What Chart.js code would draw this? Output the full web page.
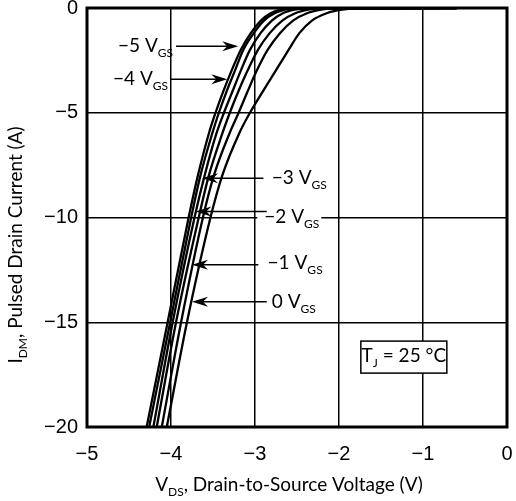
<!DOCTYPE html>
<html>
<head>
<meta charset="utf-8">
<script src="https://cdn.jsdelivr.net/npm/chart.js@4/dist/chart.umd.min.js"></script>
<style>
  html, body { margin: 0; padding: 0; background: #fff; }
  #wrap { width: 516px; height: 501px; }
</style>
</head>
<body>
<div id="wrap"><canvas id="chart"></canvas></div>
<script>
// drain current levels (A), shared by every curve, bottom to top
const currentLevels = [-20, -15, -10, -8, -6, -5, -4, -3, -2, -1.2, -0.6, -0.25, -0.08, -0.03, -0.01];

// V_DS (V) at the current levels above
const vgsLabels = ['−5', '−4', '−3', '−2', '−1', '0'];
const vdsAtVgsM5 = [-4.29, -4.04, -3.79, -3.68, -3.55, -3.47, -3.38, -3.28, -3.17, -3.05, -2.93, -2.815, -2.696, -2.606, -0.6];
const vdsAtVgsM4 = [-4.26, -4.01, -3.76, -3.65, -3.51, -3.43, -3.34, -3.24, -3.14, -3.015, -2.894, -2.768, -2.644, -2.552, -0.6];
const vdsAtVgsM3 = [-4.21, -3.98, -3.72, -3.60, -3.46, -3.37, -3.27, -3.17, -3.06, -2.934, -2.80, -2.668, -2.527, -2.428, -0.6];
const vdsAtVgsM2 = [-4.17, -3.94, -3.67, -3.55, -3.39, -3.30, -3.20, -3.09, -2.965, -2.825, -2.675, -2.521, -2.365, -2.257, -0.6];
const vdsAtVgsM1 = [-4.11, -3.88, -3.62, -3.49, -3.305, -3.195, -3.09, -2.98, -2.85, -2.703, -2.547, -2.381, -2.21, -2.094, -0.6];
const vdsAtVgs0 = [-4.05, -3.81, -3.53, -3.39, -3.19, -3.06, -2.91, -2.755, -2.60, -2.472, -2.322, -2.147, -1.96, -1.83, -0.6];

const xTicks = [-5, -4, -3, -2, -1, 0];
const yTicks = [0, -5, -10, -15, -20];

const allCurves = [vdsAtVgsM5, vdsAtVgsM4, vdsAtVgsM3, vdsAtVgsM2, vdsAtVgsM1, vdsAtVgs0];

// callouts, placed in data units (V, A)
const callouts = [
  { text: vgsLabels[0], textV: -4.63, tailV: -3.94, tipV: -3.20, arrowI: -1.82, textI: -1.82 },
  { text: vgsLabels[1], textV: -4.69, tailV: -4.00, tipV: -3.33, arrowI: -3.40, textI: -3.40 },
  { text: vgsLabels[2], textV: -2.80, tailV: -2.90, tipV: -3.63, arrowI: -8.13, textI: -8.13 },
  { text: vgsLabels[3], textV: -2.89, tailV: -2.86, tipV: -3.71, arrowI: -9.71, textI: -9.95, mask: true },
  { text: vgsLabels[4], textV: -2.85, tailV: -2.96, tipV: -3.75, arrowI: -12.25, textI: -12.15 },
  { text: vgsLabels[5], textV: -2.80, tailV: -2.86, tipV: -3.75, arrowI: -14.02, textI: -14.02 }
];

const textFont = 'Lato, "Open Sans", sans-serif';
const minus = (v) => String(v).replace('-', '−');

const richWidth = (ctx, parts, size) => {
  let w = 0;
  parts.forEach((p) => {
    ctx.font = `${p.sub ? Math.round(size * 0.62) : size}px ${textFont}`;
    w += ctx.measureText(p.t).width;
  });
  return w;
};

// text with subscript parts
const drawRich = (ctx, parts, x, y, size, align) => {
  const total = richWidth(ctx, parts, size);
  let cx = align === 'center' ? x - total / 2 : x;
  ctx.textBaseline = 'middle';
  ctx.textAlign = 'left';
  parts.forEach((p) => {
    ctx.font = `${p.sub ? Math.round(size * 0.62) : size}px ${textFont}`;
    ctx.fillText(p.t, cx, p.sub ? y + size * 0.38 : y);
    cx += ctx.measureText(p.t).width;
  });
  return total;
};

const drawArrow = (ctx, x0, x1, y) => {
  const dir = x1 > x0 ? 1 : -1;
  ctx.beginPath();
  ctx.moveTo(x0, y);
  ctx.lineTo(x1 - dir * 8, y);
  ctx.lineWidth = 1.5;
  ctx.strokeStyle = '#000';
  ctx.stroke();
  ctx.beginPath();
  ctx.moveTo(x1, y);
  ctx.lineTo(x1 - dir * 16, y - 5);
  ctx.lineTo(x1 - dir * 11, y);
  ctx.lineTo(x1 - dir * 16, y + 5);
  ctx.closePath();
  ctx.fillStyle = '#000';
  ctx.fill();
};

const overlayPlugin = {
  id: 'overlay',
  beforeDatasetsDraw(chart) {
    const { ctx, scales: { x, y } } = chart;
    // white patch that breaks the -10 grid line behind the -2 label
    callouts.filter((c) => c.mask).forEach((c) => {
      ctx.save();
      ctx.fillStyle = '#fff';
      const px = x.getPixelForValue(c.textV);
      ctx.fillRect(px - 7, y.getPixelForValue(c.textI) - 4, 64, 14);
      ctx.restore();
    });
  },
  afterDatasetsDraw(chart) {
    const { ctx, chartArea: a, scales: { x, y } } = chart;
    ctx.save();
    ctx.lineWidth = 3;
    ctx.strokeStyle = '#000';
    ctx.strokeRect(a.left, a.top, a.right - a.left, a.bottom - a.top);

    ctx.fillStyle = '#000';
    callouts.forEach((c) => {
      const ay = y.getPixelForValue(c.arrowI);
      drawArrow(ctx, x.getPixelForValue(c.tailV), x.getPixelForValue(c.tipV), ay);
      ctx.fillStyle = '#000';
      drawRich(ctx, [{ t: `${c.text} V` }, { t: 'GS', sub: true }],
        x.getPixelForValue(c.textV), y.getPixelForValue(c.textI), 19, 'left');
    });

    // junction temperature box
    const bx = x.getPixelForValue(-1.74);
    const by = y.getPixelForValue(-15.9);
    ctx.fillStyle = '#fff';
    ctx.fillRect(bx, by, 86, 32);
    ctx.lineWidth = 1.5;
    ctx.strokeRect(bx, by, 86, 32);
    ctx.fillStyle = '#000';
    drawRich(ctx, [{ t: 'T' }, { t: 'J', sub: true }, { t: ' = 25 °C' }], bx + 43, by + 15, 19, 'center');

    // axis titles
    drawRich(ctx, [{ t: 'V' }, { t: 'DS', sub: true }, { t: ', Drain-to-Source Voltage (V)' }],
      (a.left + a.right) / 2 - 8, 485, 19, 'center');
    ctx.translate(16, 245);
    ctx.rotate(-Math.PI / 2);
    drawRich(ctx, [{ t: 'I' }, { t: 'DM', sub: true }, { t: ', Pulsed Drain Current (A)' }], 0, 0, 19, 'center');
    ctx.restore();
  }
};

const datasets = allCurves.map((vds, i) => ({
  label: `${vgsLabels[i]} VGS`,
  data: vds.map((v, k) => ({ x: v, y: currentLevels[k] })),
  borderColor: '#000',
  borderWidth: 2.3,
  pointRadius: 0,
  fill: false,
  cubicInterpolationMode: 'monotone'
}));

new Chart(document.getElementById('chart'), {
  type: 'line',
  data: { datasets },
  plugins: [overlayPlugin],
  options: {
    responsive: true,
    maintainAspectRatio: false,
    animation: false,
    layout: { padding: { top: 8, right: 9, left: 0, bottom: 0 } },
    plugins: { legend: { display: false }, tooltip: { enabled: false } },
    scales: {
      x: {
        type: 'linear',
        min: -5,
        max: 0,
        afterBuildTicks: (s) => { s.ticks = xTicks.map((v) => ({ value: v })); },
        afterFit: (s) => { s.height = 74; s.paddingLeft = 0; s.paddingRight = 0; },
        border: { display: false },
        grid: { color: '#000', lineWidth: 1.5, drawTicks: false },
        ticks: {
          color: '#000',
          padding: 15,
          maxRotation: 0,
          font: { family: '"Liberation Sans", Arial, sans-serif', size: 20 },
          callback: minus
        }
      },
      y: {
        type: 'linear',
        min: -20,
        max: 0,
        afterBuildTicks: (s) => { s.ticks = yTicks.map((v) => ({ value: v })); },
        afterFit: (s) => { s.width = 87; s.paddingTop = 0; s.paddingBottom = 0; },
        border: { display: false },
        grid: { color: '#000', lineWidth: 1.5, drawTicks: false },
        ticks: {
          color: '#000',
          padding: 9,
          font: { family: '"Liberation Sans", Arial, sans-serif', size: 20 },
          callback: minus
        }
      }
    }
  }
});
</script>
</body>
</html>
